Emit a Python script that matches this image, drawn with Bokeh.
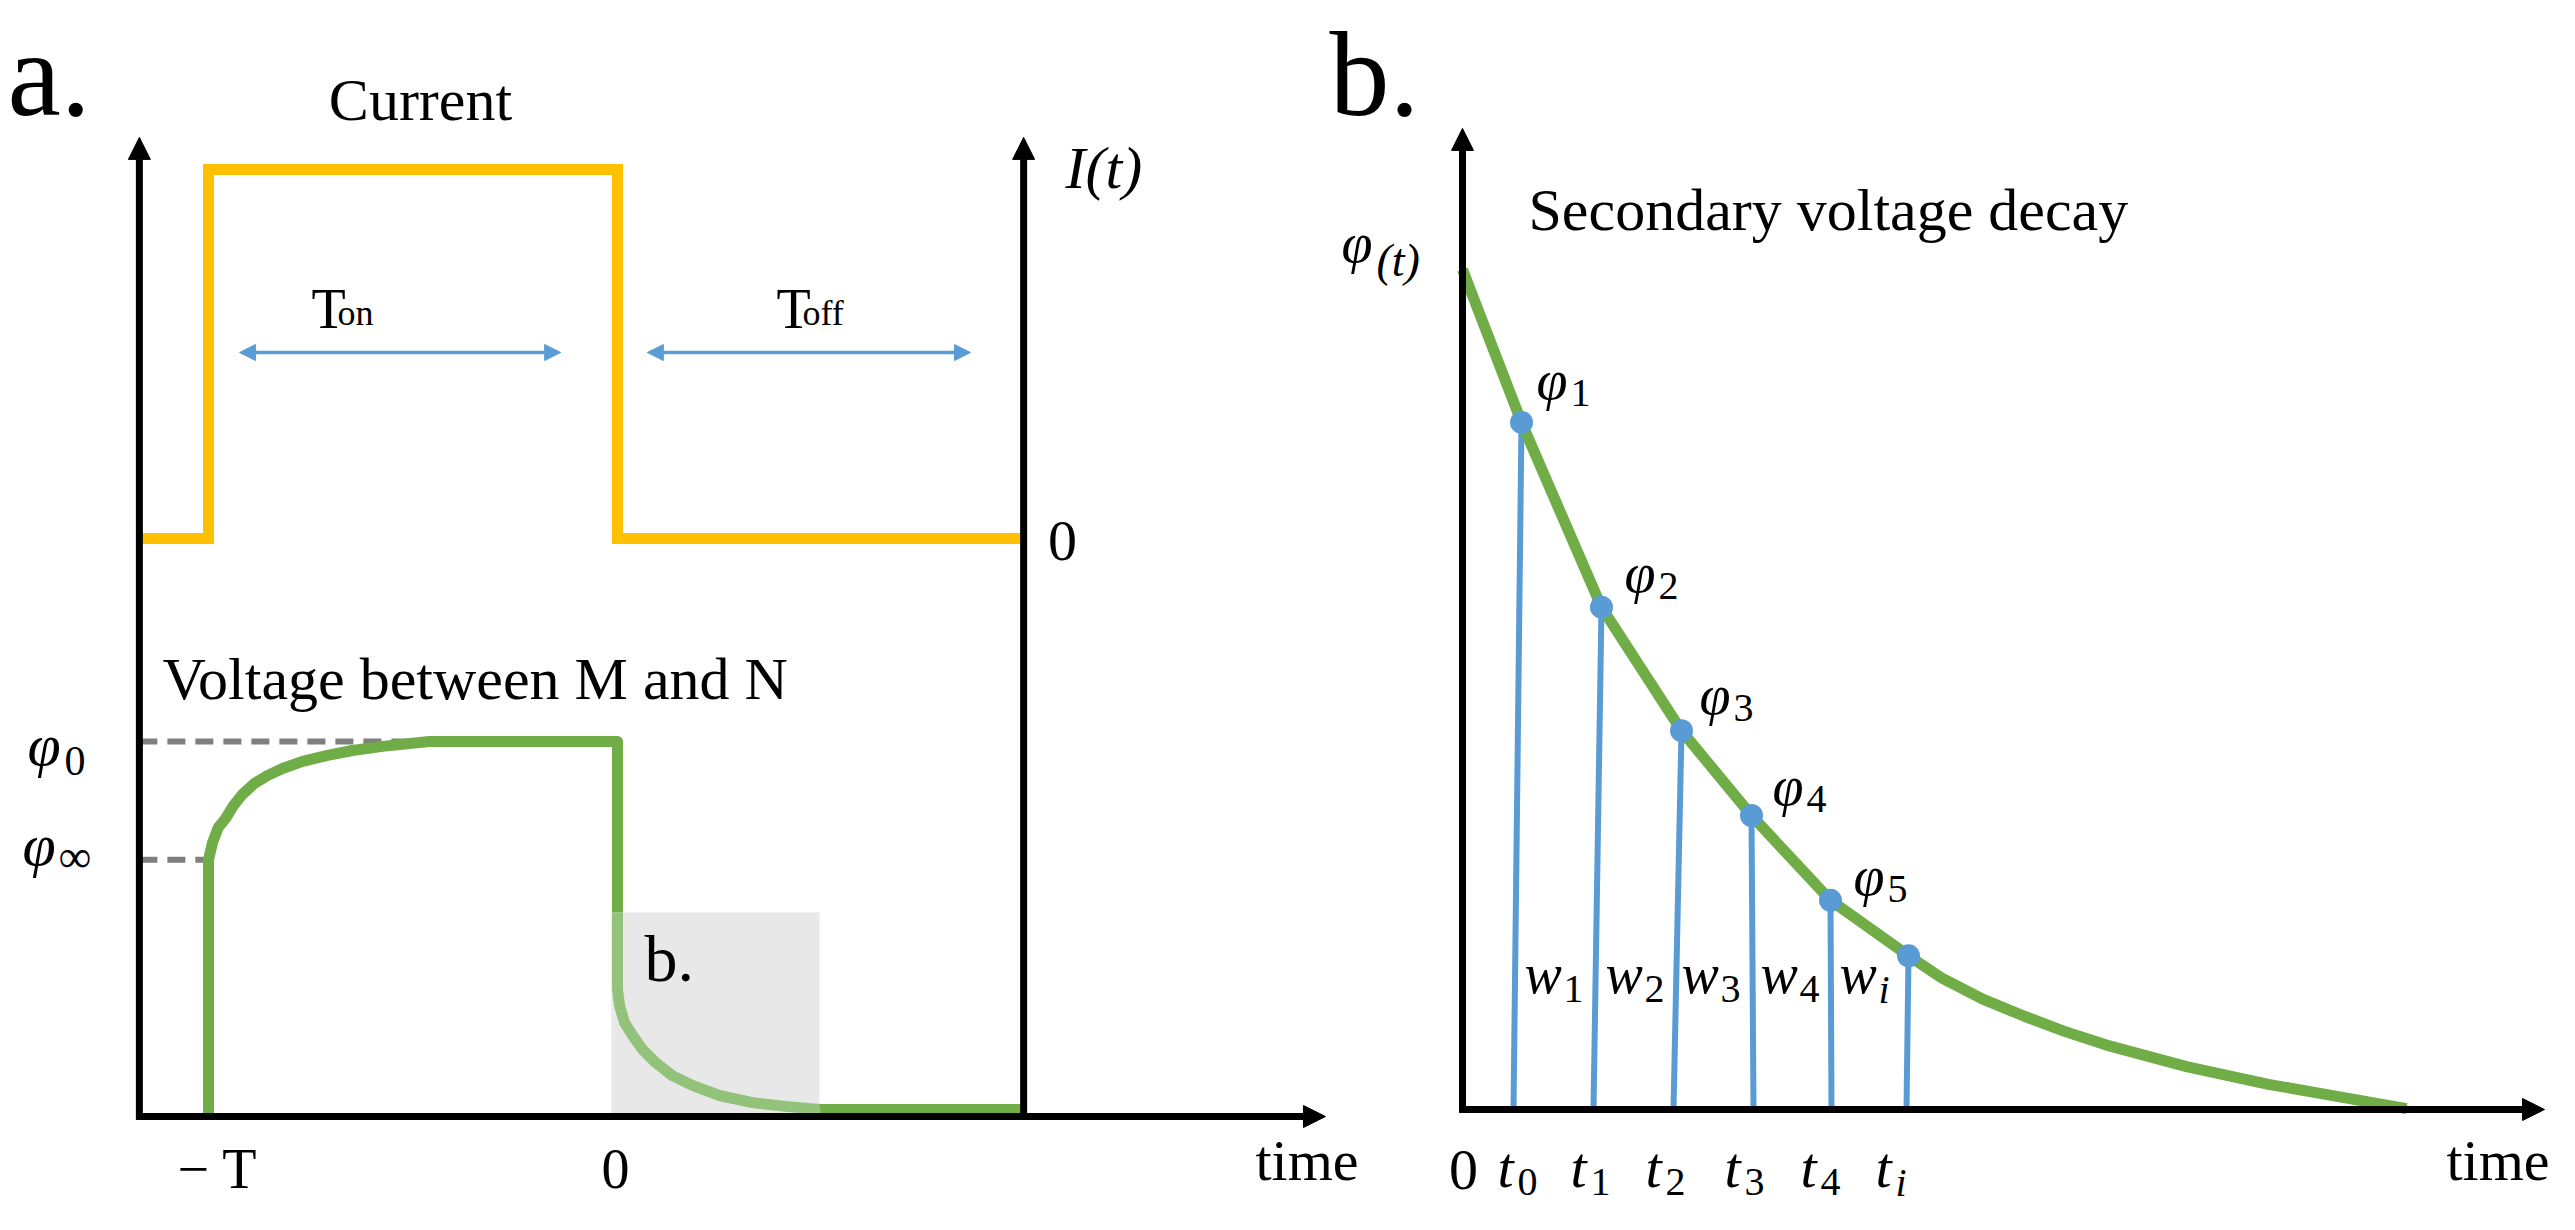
from bokeh.plotting import figure
from bokeh.models import Range1d, Arrow, NormalHead
from bokeh.core.properties import value
from bokeh.embed import file_html
from bokeh.resources import INLINE

# ---------------- data ----------------
# Panel a – injected current: square pulse (time in units of T, current normalised)
cur_time = [-1.169, -1.0, -1.0, 0.0, 0.0, 0.993]
cur_level = [0.0, 0.0, 1.0, 1.0, 0.0, 0.0]

# Panel a – voltage between M and N (normalised to phi0)
volt_on_time = [-1.0, -1.0, -0.990, -0.976, -0.958, -0.939, -0.917, -0.888, -0.856, -0.819,
                -0.770, -0.709, -0.648, -0.575, -0.46, 0.0, 0.0]
volt_on_level = [0.0, 0.685, 0.731, 0.771, 0.795, 0.829, 0.859, 0.888, 0.909, 0.928,
                 0.947, 0.963, 0.976, 0.987, 1.0, 1.0, 0.544]
volt_decay_time = [0.0, 0.0, 0.005, 0.017, 0.037, 0.061, 0.093, 0.134, 0.183, 0.249,
                   0.330, 0.411, 0.494]
volt_decay_level = [0.544, 0.339, 0.296, 0.251, 0.216, 0.179, 0.144, 0.109, 0.083, 0.056,
                    0.037, 0.027, 0.019]
volt_tail_time = [0.494, 0.993]
volt_tail_level = [0.019, 0.019]
phi_ref_level = [1.0, 0.685]          # phi0, phi_inf
phi_ref_end = [-0.46, -1.0]
box_left, box_right, box_bottom, box_top = [-0.015], [0.494], [0.0], [0.544]
period_start = [-0.924, 0.073]         # T_on, T_off arrows
period_end = [-0.139, 0.863]
period_level = 0.504
a_tick_labels = ["\u2212 T", "0"]

# Panel b – secondary voltage decay
decay_time = [0.0, 0.7375, 1.7375, 2.7375, 3.6125, 4.6, 5.575, 6.0, 6.51, 7.025, 7.525,
              8.04, 9.05, 10.075, 11.09, 11.8]
decay_level = [1.0, 0.818, 0.598, 0.451, 0.350, 0.249, 0.183, 0.156, 0.131, 0.111, 0.093,
               0.077, 0.051, 0.030, 0.013, 0.001]
sample_time = [0.7375, 1.7375, 2.7375, 3.6125, 4.6, 5.575]
sample_level = [0.818, 0.598, 0.451, 0.350, 0.249, 0.183]
gate_time = [0.6375, 1.6375, 2.6375, 3.6375, 4.6125, 5.55]
phi_subs = ["1", "2", "3", "4", "5"]
w_subs = ["1", "2", "3", "4", "i"]
t_subs = ["0", "1", "2", "3", "4", "i"]

# ---------------- colours ----------------
YELLOW = "#FFC000"
GREEN = "#70AD47"
LIGHT_GREEN = "#93C27A"
BLUE = "#5B9BD5"
GREY = "#7F7F7F"
BOX = "#E8E8E9"
FONT = "Liberation Serif"

W, H = 2559, 1214
p = figure(width=W, height=H, x_range=Range1d(8, 8 + W), y_range=Range1d(8 + H, 8),
           output_backend="svg", toolbar_location=None, min_border=0,
           x_axis_type=None, y_axis_type=None)
p.grid.visible = False
p.outline_line_color = None
p.background_fill_color = "white"
p.border_fill_color = "white"


def calib(d1, P1, d2, P2, Pa, Pb):
    a = (P2 - P1) / (d2 - d1)
    return Range1d(d1 + (Pa - P1) / a, d1 + (Pb - P1) / a)


p.extra_x_ranges = {"ta": calib(-1, 216, 0, 625, 8, 8 + W),
                    "tb": calib(0, 1470, 1, 1550, 8, 8 + W)}
p.extra_y_ranges = {"ia": calib(0, 546, 1, 177, 8 + H, 8),
                    "va": calib(0, 1124, 1, 749, 8 + H, 8),
                    "vb": calib(0, 1117, 1, 277, 8 + H, 8)}

A_I = dict(x_range_name="ta", y_range_name="ia")
A_V = dict(x_range_name="ta", y_range_name="va")
B_V = dict(x_range_name="tb", y_range_name="vb")

# axis extents (panel units)
a_left, a_right, a_tip, a_top = -1.169, 0.993, 1.731, 2.611
b_tip, b_top = 13.525, 1.168

# ---------------- panel a ----------------
p.quad(left=box_left, right=box_right, bottom=box_bottom, top=box_top,
       fill_color=BOX, line_color=None, **A_V)
p.segment(x0=[a_left] * 2, y0=phi_ref_level, x1=phi_ref_end, y1=phi_ref_level,
          line_color=GREY, line_width=6, line_dash="18 10", **A_V)
p.line(volt_on_time, volt_on_level, line_color=GREEN, line_width=11, line_join="round", **A_V)
p.line(volt_decay_time, volt_decay_level, line_color=LIGHT_GREEN, line_width=11, line_join="round", **A_V)
p.line(volt_tail_time, volt_tail_level, line_color=GREEN, line_width=11, **A_V)
p.line(cur_time, cur_level, line_color=YELLOW, line_width=11, line_join="miter", **A_I)

for x0, y0, x1, y1 in [(a_left, -0.009, a_left, a_top), (a_right, -0.009, a_right, a_top),
                       (a_left - 0.008, 0.0, a_tip, 0.0)]:
    p.add_layout(Arrow(end=NormalHead(size=22, fill_color="black", line_color="black"),
                       x_start=x0, y_start=y0, x_end=x1, y_end=y1,
                       line_color="black", line_width=7, **A_V))
for s, e in zip(period_start, period_end):
    p.add_layout(Arrow(start=NormalHead(size=16, fill_color=BLUE, line_color=BLUE),
                       end=NormalHead(size=16, fill_color=BLUE, line_color=BLUE),
                       x_start=s, y_start=period_level, x_end=e, y_end=period_level,
                       line_color=BLUE, line_width=3.5, **A_I))

# ---------------- panel b ----------------
p.segment(x0=gate_time, y0=[0] * len(gate_time), x1=sample_time, y1=sample_level,
          line_color=BLUE, line_width=6, **B_V)
p.line(decay_time, decay_level, line_color=GREEN, line_width=11, line_join="round", **B_V)
p.scatter(sample_time, sample_level, size=23, fill_color=BLUE, line_color=None, **B_V)
for x0, y0, x1, y1 in [(0, -0.004, 0, b_top), (-0.04, 0.0, b_tip, 0.0)]:
    p.add_layout(Arrow(end=NormalHead(size=22, fill_color="black", line_color="black"),
                       x_start=x0, y_start=y0, x_end=x1, y_end=y1,
                       line_color="black", line_width=7, **B_V))


# ---------------- texts ----------------
def label(x, y, s, size, align="left", style="normal"):
    # y is the wanted baseline; shift by the renderer's baseline offset
    p.text(x=[x], y=[y - 0.21 * size], text=[s], text_font=value(FONT),
           text_font_size=value(f"{size}px"), text_font_style=style, text_align=align,
           text_baseline="alphabetic", text_color="black")


label(15, 107, "a.", 120)
label(428, 120, "Current", 60, "center")
label(1073, 188, "I(t)", 60, style="italic")
label(1070, 561, "0", 58, "center")
label(319, 328, "T", 56)
label(345, 328, "on", 36)
label(784, 328, "T", 56)
label(810, 328, "off", 36)
label(170, 699, "Voltage between M and N", 60)
label(35, 765, "\u03c6", 60, style="italic")
label(72, 777, "0", 42)
label(30, 865, "\u03c6", 60, style="italic")
label(66, 874, "\u221e", 46)
label(225, 1188, a_tick_labels[0], 56, "center")
label(623, 1188, a_tick_labels[1], 56, "center")
label(1263, 1180, "time", 58)
label(652, 980, "b.", 66)

label(1337, 107, "b.", 120)
label(1536, 230, "Secondary voltage decay", 60)
label(1349, 262, "\u03c6", 56, style="italic")
label(1384, 278, "(t)", 46, style="italic")
for L, B, sub in zip([1544, 1632, 1707, 1780, 1861], [399, 592, 714, 805, 895], phi_subs):
    label(L, B, "\u03c6", 56, style="italic")
    label(L + 34, B + 10, sub, 40)
for L, sub in zip([1532, 1613, 1689, 1768, 1847], w_subs):
    label(L, 993, "w", 56, style="italic")
    label(L + 39, 1005, sub, 40, style="italic" if sub == "i" else "normal")
for L, sub in zip([1505, 1578, 1653, 1732, 1808, 1883], t_subs):
    label(L, 1187, "t", 58, style="italic")
    label(L + 20, 1198, sub, 40, style="italic" if sub == "i" else "normal")
label(1471, 1190, "0", 58, "center")
label(2454, 1180, "time", 58)

open("out.html", "w").write(file_html(p, INLINE, "chart"))
